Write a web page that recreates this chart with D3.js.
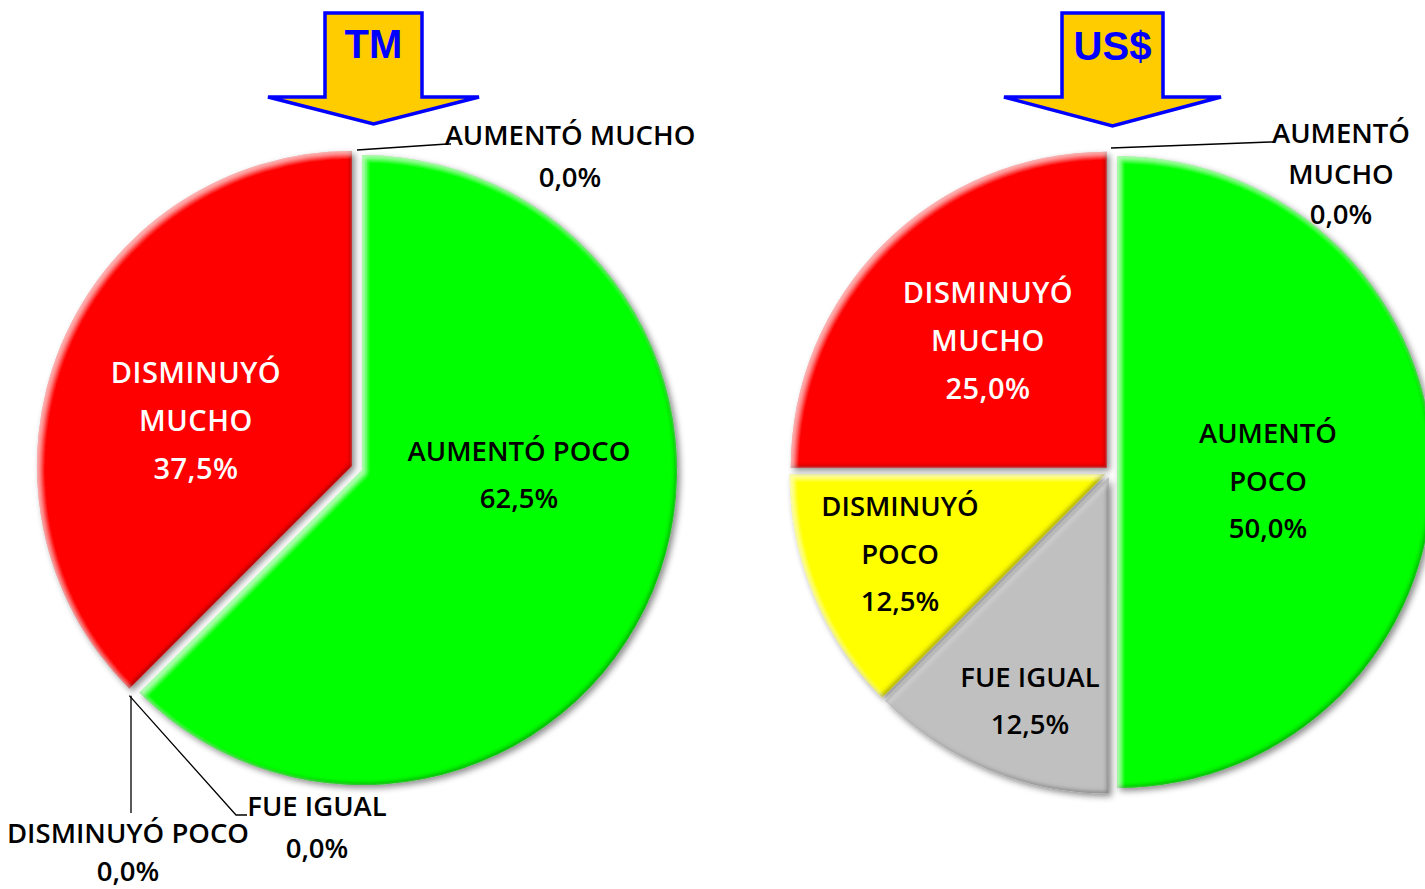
<!DOCTYPE html>
<html>
<head>
<meta charset="utf-8">
<script src="https://cdn.jsdelivr.net/npm/d3@7"></script>
<style>
  body { margin: 0; background: #fff; }
  text { font-family: "Open Sans", sans-serif; }
</style>
</head>
<body>
<div id="chart"></div>
<script>
// data
var categories = ["AUMENTÓ MUCHO", "AUMENTÓ POCO", "FUE IGUAL", "DISMINUYÓ POCO", "DISMINUYÓ MUCHO"];
var tmValues = [0, 62.5, 0, 0, 37.5];
var usdValues = [0, 50, 12.5, 12.5, 25];
var chartTitles = ["TM", "US$"];

// styles
var sliceColors = ["#008000", "#00ff06", "#c0c0c0", "#ffff00", "#ff0000"];
var labelColors = ["#000", "#000", "#000", "#000", "#fff"];

var color = d3.scaleOrdinal().domain(categories).range(sliceColors);
var textColor = d3.scaleOrdinal().domain(categories).range(labelColors);

var svg = d3.select("#chart")
  .append("svg")
  .attr("width", 1425)
  .attr("height", 889);

// bevel + shadow filter
var defs = svg.append("defs");
defs.html(
  '<filter id="bevel" x="-10%" y="-10%" width="125%" height="125%">' +
  '<feGaussianBlur in="SourceAlpha" stdDeviation="3" result="sb"/>' +
  '<feOffset in="sb" dx="3" dy="3" result="so"/>' +
  '<feFlood flood-color="#000" flood-opacity="0.45"/>' +
  '<feComposite in2="so" operator="in" result="shadow"/>' +
  '<feComponentTransfer in="SourceAlpha" result="inv"><feFuncA type="table" tableValues="1 0"/></feComponentTransfer>' +
  '<feGaussianBlur in="inv" stdDeviation="2" result="invb"/>' +
  '<feOffset in="invb" dx="-2" dy="-2" result="darkOff"/>' +
  '<feFlood flood-color="#000" flood-opacity="0.6"/>' +
  '<feComposite in2="darkOff" operator="in"/>' +
  '<feComposite in2="SourceAlpha" operator="in" result="innerDark"/>' +
  '<feOffset in="invb" dx="3" dy="3" result="lightOff"/>' +
  '<feFlood flood-color="#fff" flood-opacity="0.45"/>' +
  '<feComposite in2="lightOff" operator="in"/>' +
  '<feComposite in2="SourceAlpha" operator="in" result="innerLight"/>' +
  '<feMerge><feMergeNode in="shadow"/><feMergeNode in="SourceGraphic"/><feMergeNode in="innerDark"/><feMergeNode in="innerLight"/></feMerge>' +
  '</filter>'
);

// layout of the two pies (labels: x center, first baseline, line gap, split name)
var charts = [
  {
    values: tmValues, title: chartTitles[0], cx: 357, cy: 468, r: 315, explode: 5.5,
    arrow: {l: 325, r: 422, top: 13, sh: 97, hl: 268, hr: 479, tipy: 124, ty: 58},
    labels: [
      {x: 570, y: 145, gap: 42, split: false, leader: [[447, 144], [451, 144]], lr: 318},
      {x: 519, y: 461, gap: 47, split: false},
      {x: 317, y: 816, gap: 42, split: false, leader: [[236, 815], [247, 815]], lr: 322},
      {x: 128, y: 843, gap: 38, split: false, leader: [[131, 813]], lr: 322, lx: 131},
      {x: 196, y: 383, gap: 48, split: true}
    ]
  },
  {
    values: usdValues, title: chartTitles[1], cx: 1111, cy: 472, r: 316, explode: 6,
    arrow: {l: 1062, r: 1163, top: 13, sh: 97, hl: 1004, hr: 1221, tipy: 126, ty: 60},
    labels: [
      {x: 1341, y: 143, gap: 40.5, split: true, leader: [[1270, 142], [1275, 142]], lr: 324},
      {x: 1268, y: 443, gap: 47.5, split: true},
      {x: 1030, y: 687, gap: 47, split: false},
      {x: 900, y: 516, gap: 47.5, split: true},
      {x: 988, y: 303, gap: 48, split: true}
    ]
  }
];

function fmt(v) {
  return v.toFixed(1).replace(".", ",") + "%";
}

var pie = d3.pie().sort(null).value(function(d) { return d.value; });

charts.forEach(function(c) {
  var arc = d3.arc().innerRadius(0).outerRadius(c.r);
  var arcs = pie(c.values.map(function(v, i) { return {cat: categories[i], value: v}; }));

  // arrow
  var a = c.arrow, mid = (a.l + a.r) / 2;
  svg.append("path")
    .attr("d", "M" + a.l + "," + a.top + "H" + a.r + "V" + a.sh + "H" + a.hr +
      "L" + mid + "," + a.tipy + "L" + a.hl + "," + a.sh + "H" + a.l + "Z")
    .attr("fill", "#ffcc00")
    .attr("stroke", "#0000ff")
    .attr("stroke-width", 3.5)
    .attr("stroke-linejoin", "miter");
  svg.append("text")
    .attr("x", mid).attr("y", a.ty)
    .attr("text-anchor", "middle")
    .style("font-family", "'Liberation Sans', Arial, sans-serif")
    .style("font-weight", "bold")
    .style("font-size", "40px")
    .attr("fill", "#0000ff")
    .text(c.title);

  // slices
  var g = svg.append("g").attr("transform", "translate(" + c.cx + "," + c.cy + ")");
  g.selectAll("path")
    .data(arcs.filter(function(d) { return d.value > 0; }))
    .enter().append("path")
    .attr("d", arc)
    .attr("fill", function(d) { return color(d.data.cat); })
    .attr("transform", function(d) {
      var m = (d.startAngle + d.endAngle) / 2;
      return "translate(" + (Math.sin(m) * c.explode) + "," + (-Math.cos(m) * c.explode) + ")";
    })
    .attr("filter", "url(#bevel)");

  // labels
  arcs.forEach(function(d, i) {
    var lab = c.labels[i];
    var lines = lab.split ? d.data.cat.split(" ") : [d.data.cat];
    lines = lines.concat([fmt(d.value)]);
    var fill = d.value > 0 ? textColor(d.data.cat) : "#000";
    var t = svg.append("text")
      .attr("text-anchor", "middle")
      .attr("fill", fill)
      .style("font-size", fill == "#fff" ? "29px" : "27.5px")
      .style("font-weight", 600)
      .style("letter-spacing", fill == "#fff" ? "0.5px" : "0px");
    lines.forEach(function(s, k) {
      t.append("tspan").attr("x", lab.x).attr("y", lab.y + k * lab.gap).text(s);
    });

    if (lab.leader) {
      var ang = d.startAngle;
      var sx = lab.lx != null ? lab.lx : c.cx + Math.sin(ang) * lab.lr;
      var sy = c.cy - Math.cos(ang) * lab.lr;
      var pts = [[sx, sy]].concat(lab.leader);
      svg.append("path")
        .attr("d", d3.line()(pts))
        .attr("fill", "none")
        .attr("stroke", "#000")
        .attr("stroke-width", 1.3);
    }
  });
});
</script>
</body>
</html>
